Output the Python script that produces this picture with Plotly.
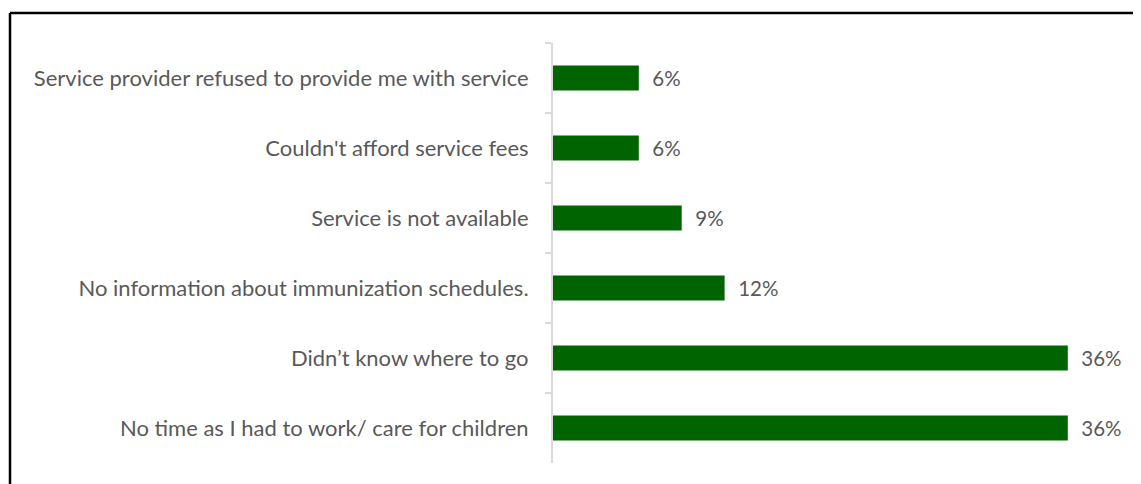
import plotly.graph_objects as go

categories = [
    "Service provider refused to provide me with service",
    "Couldn't afford service fees",
    "Service is not available",
    "No information about immunization schedules.",
    "Didn\u2019t know where to go",
    "No time as I had to work/ care for children",
]
values = [6, 6, 9, 12, 36, 36]

# page body adds an 8px offset, so figure is sized/positioned to compensate
W, H = 1133, 476
L, R, T, B = 545, 16, 35, 21
pw = W - L - R
ph = H - T - B

FONT = "Lato"

fig = go.Figure(go.Bar(
    x=values, y=categories, orientation="h",
    marker=dict(color="#006400", line=dict(width=0)),
    text=[f"\u00a0\u00a0{v}%" for v in values], textposition="outside",
    textfont=dict(family=FONT, size=22, color="#595959"),
    cliponaxis=False, width=0.36,
))

fig.update_layout(
    width=W, height=H,
    margin=dict(l=L, r=R, t=T, b=B, pad=0),
    plot_bgcolor="white", paper_bgcolor="white",
    showlegend=False,
    bargap=0.64,
)
fig.update_xaxes(range=[0, 40], visible=False, showgrid=False, zeroline=False)
fig.update_yaxes(
    autorange="reversed", showline=True, linecolor="#d9d9d9", linewidth=2,
    ticks="outside", tickson="boundaries", ticklen=6, tickcolor="#d9d9d9", tickwidth=2,
    tickfont=dict(family=FONT, size=22, color="#595959"),
    ticklabelstandoff=18, showgrid=False,
)

def px_x(x):
    return (x - L) / pw

def px_y(y):
    return 1 - (y - T) / ph

fig.add_shape(type="line", xref="paper", yref="paper",
              x0=px_x(2), x1=px_x(1140), y0=px_y(5), y1=px_y(5),
              line=dict(color="black", width=2.5))
fig.add_shape(type="line", xref="paper", yref="paper",
              x0=px_x(2), x1=px_x(2), y0=px_y(5), y1=px_y(490),
              line=dict(color="black", width=2.5))

fig.write_html("out.html")
